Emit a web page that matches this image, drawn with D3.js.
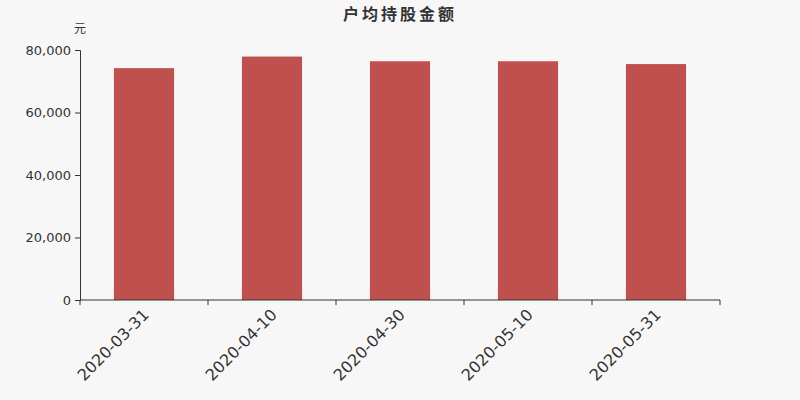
<!DOCTYPE html>
<html>
<head>
<meta charset="utf-8">
<script src="https://cdn.jsdelivr.net/npm/d3@7"></script>
<style>
  body { margin: 0; background: #f7f7f7; }
  svg { display: block; font-family: "DejaVu Sans", sans-serif; }
</style>
</head>
<body>
<svg id="chart"></svg>
<script>
// data
const dates = ['2020-03-31', '2020-04-10', '2020-04-30', '2020-05-10', '2020-05-31'];
const values = [74200, 77900, 76400, 76400, 75500];
const yTicks = [0, 20000, 40000, 60000, 80000];

const width = 800, height = 400;
const margin = {top: 50, right: 80, bottom: 100, left: 80};

const svg = d3.select('#chart')
  .attr('width', width)
  .attr('height', height);

svg.append('rect')
  .attr('width', width).attr('height', height)
  .attr('fill', '#f7f7f7');

const x = d3.scaleBand()
  .domain(dates)
  .range([margin.left, width - margin.right])
  .paddingInner(0.53)
  .paddingOuter(0.265);

const y = d3.scaleLinear()
  .domain([0, 80000])
  .range([height - margin.bottom, margin.top]);

// title + unit
svg.append('text')
  .attr('x', width / 2).attr('y', 20)
  .attr('text-anchor', 'middle')
  .attr('font-family', '"Noto Sans CJK SC", sans-serif')
  .attr('font-size', 16).attr('font-weight', 'bold')
  .attr('letter-spacing', 3)
  .attr('fill', '#333')
  .text('户均持股金额');

svg.append('text')
  .attr('x', 80).attr('y', 33)
  .attr('text-anchor', 'middle')
  .attr('font-family', '"Noto Sans CJK SC", sans-serif')
  .attr('font-size', 12)
  .attr('fill', '#333')
  .text('元');

// bars
svg.append('g')
  .selectAll('rect')
  .data(values)
  .join('rect')
  .attr('x', (d, i) => x(dates[i]))
  .attr('y', d => y(d))
  .attr('width', x.bandwidth())
  .attr('height', d => y(0) - y(d))
  .attr('fill', '#c0504d');

// y axis
const gy = svg.append('g')
  .attr('transform', `translate(${margin.left},0)`)
  .call(d3.axisLeft(y).tickValues(yTicks).tickSize(5).tickPadding(4)
    .tickFormat(d3.format(',')));
gy.selectAll('text').attr('font-size', 13).attr('fill', '#333')
  .attr('font-family', '"DejaVu Sans", sans-serif');
gy.selectAll('line, path').attr('stroke', '#333');

// x axis with ticks at band edges
const xEdges = d3.scaleLinear().domain([0, dates.length]).range(x.range());
const gx = svg.append('g')
  .attr('transform', `translate(0,${height - margin.bottom})`);
gx.append('path')
  .attr('d', `M${margin.left},0H${width - margin.right}`)
  .attr('stroke', '#333').attr('fill', 'none');
gx.selectAll('line')
  .data(d3.range(dates.length + 1))
  .join('line')
  .attr('x1', d => xEdges(d)).attr('x2', d => xEdges(d))
  .attr('y1', 0).attr('y2', 5)
  .attr('stroke', '#333');
gx.selectAll('text')
  .data(dates)
  .join('text')
  .attr('transform', d => `translate(${x(d) + x.bandwidth() / 2 - 2},8) rotate(-45)`)
  .attr('text-anchor', 'end')
  .attr('dy', '0.7em')
  .attr('font-size', 16)
  .attr('fill', '#333')
  .text(d => d);
</script>
</body>
</html>
